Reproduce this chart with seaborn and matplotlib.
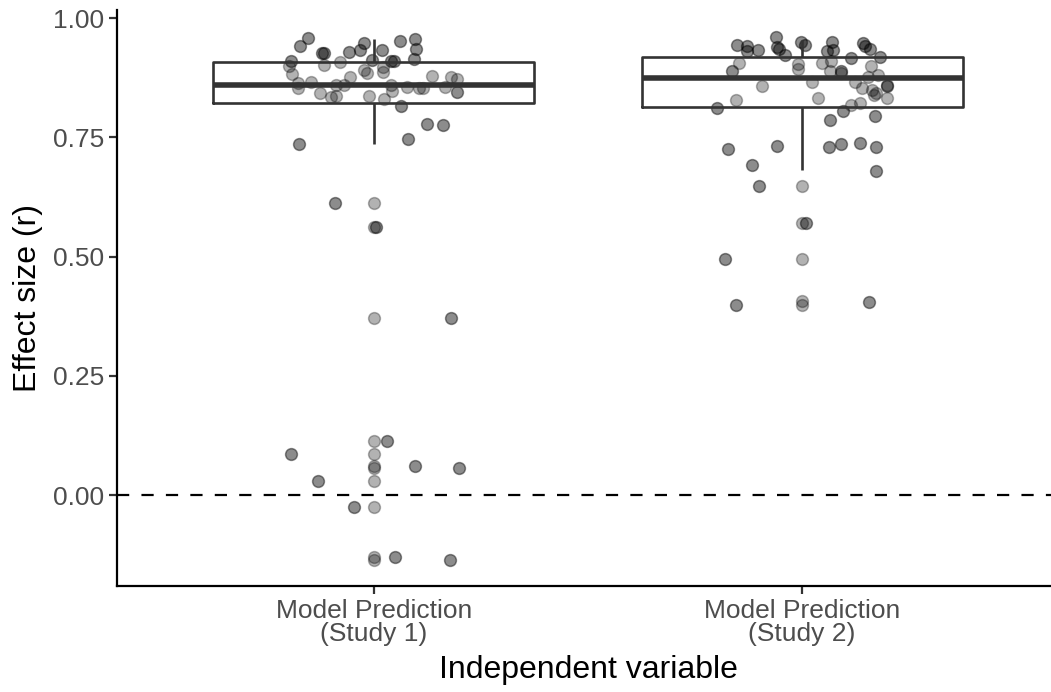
import numpy as np
import pandas as pd
import matplotlib
matplotlib.use("Agg")
import matplotlib.pyplot as plt
import seaborn as sns

# ---------------- data ----------------
categories = ["Model Prediction\n(Study 1)", "Model Prediction\n(Study 2)"]

# five-number box summaries: lower whisker, Q1, median, Q3, upper whisker
box_study1 = [0.737, 0.823, 0.860, 0.908, 0.957]
box_study2 = [0.681, 0.813, 0.875, 0.918, 0.954]

# Study 1, darker points (effect size r) and their horizontal jitter
s1_dark_r = [0.959, 0.941, 0.926, 0.926, 0.929, 0.934, 0.948, 0.913, 0.933, 0.952,
             0.956, 0.936, 0.914, 0.910, 0.910, 0.910, 0.816, 0.778, 0.776, 0.746,
             0.737, 0.613, 0.562, 0.372, 0.113, 0.087, 0.062, 0.057, 0.031, -0.025,
             -0.129, -0.135, 0.845]
s1_dark_dx = [-0.155, -0.173, -0.122, -0.116, -0.058, -0.033, -0.023, -0.005, 0.018, 0.061,
              0.096, 0.098, 0.093, 0.041, 0.047, -0.194, 0.063, 0.123, 0.162, 0.080,
              -0.174, -0.091, 0.005, 0.181, 0.031, -0.194, 0.095, 0.198, -0.130, -0.047,
              0.050, 0.178, 0.195]

# Study 1, lighter points
s1_light_r = [0.899, 0.883, 0.863, 0.854, 0.865, 0.843, 0.901, 0.835, 0.836, 0.860,
              0.860, 0.907, 0.876, 0.892, 0.884, 0.836, 0.887, 0.898, 0.831, 0.860,
              0.848, 0.856, 0.854, 0.853, 0.878, 0.856, 0.877, 0.872,
              0.613, 0.562, 0.372, 0.113, 0.087, 0.061, 0.057, 0.031, -0.025, -0.129, -0.135]
s1_light_dx = [-0.198, -0.191, -0.178, -0.177, -0.147, -0.126, -0.116, -0.101, -0.089, -0.089,
               -0.070, -0.079, -0.055, -0.022, -0.016, -0.011, 0.022, 0.022, 0.024, 0.039,
               0.042, 0.078, 0.106, 0.114, 0.135, 0.167, 0.181, 0.195,
               0.0, 0.0, 0.0, 0.0, 0.0, 0.0, 0.0, 0.0, 0.0, 0.0, 0.0]

# Study 2, darker points
s2_dark_r = [0.943, 0.942, 0.930, 0.933, 0.961, 0.940, 0.935, 0.922, 0.950, 0.943,
             0.949, 0.930, 0.933, 0.947, 0.942, 0.935, 0.919, 0.917, 0.889, 0.811,
             0.805, 0.786, 0.795, 0.725, 0.732, 0.729, 0.736, 0.739, 0.729, 0.692,
             0.680, 0.648, 0.571, 0.496, 0.398, 0.405, 0.888, 0.858]
s2_dark_dx = [-0.153, -0.128, -0.129, -0.104, -0.061, -0.058, -0.055, -0.040, -0.003, 0.006,
              0.071, 0.058, 0.073, 0.143, 0.147, 0.159, 0.182, 0.115, -0.163, -0.198,
              0.096, 0.065, 0.170, -0.174, -0.059, 0.063, 0.092, 0.135, 0.172, -0.116,
              0.172, -0.100, 0.010, -0.180, -0.155, 0.156, 0.091, 0.198]

# Study 2, lighter points
s2_light_r = [0.905, 0.858, 0.828, 0.903, 0.894, 0.905, 0.909, 0.888, 0.884, 0.900,
              0.877, 0.881, 0.867, 0.866, 0.853, 0.849, 0.842, 0.839, 0.832, 0.860,
              0.833, 0.823, 0.818,
              0.648, 0.571, 0.496, 0.407, 0.398]
s2_light_dx = [-0.147, -0.094, -0.155, -0.009, -0.009, 0.047, 0.067, 0.065, 0.090, 0.162,
               0.154, 0.177, 0.124, 0.022, 0.141, 0.163, 0.172, 0.168, 0.199, 0.199,
               0.037, 0.135, 0.115,
               0.0, 0.0, 0.0, 0.0, 0.0]

# ---------------- build tables ----------------
box_df = pd.DataFrame({
    "group": [categories[0]] * len(box_study1) + [categories[1]] * len(box_study2),
    "r": box_study1 + box_study2,
})

def points(rs, dxs, idx):
    return pd.DataFrame({"x": [idx + d for d in dxs], "r": rs})

dark_df = pd.concat([points(s1_dark_r, s1_dark_dx, 0), points(s2_dark_r, s2_dark_dx, 1)])
light_df = pd.concat([points(s1_light_r, s1_light_dx, 0), points(s2_light_r, s2_light_dx, 1)])

# ---------------- plot ----------------
sns.set_theme(style="ticks")
plt.rcParams["font.family"] = ["Liberation Sans", "DejaVu Sans"]

W, H = 1051, 692
fig = plt.figure(figsize=(W / 100, H / 100), dpi=100)
ax = fig.add_axes([117 / W, (H - 586) / H, 942 / W, (586 - 10.4) / H])

line_col = "#333333"
sns.scatterplot(data=light_df, x="x", y="r", ax=ax, s=72, color="black",
                alpha=0.3, edgecolor="black", linewidth=1.1, zorder=1, legend=False)
sns.scatterplot(data=dark_df, x="x", y="r", ax=ax, s=72, color="black",
                alpha=0.45, edgecolor="black", linewidth=1.1, zorder=1, legend=False)

sns.boxplot(data=box_df, x="group", y="r", order=categories, ax=ax, width=0.75,
            fill=False, color=line_col, linewidth=1.9, showcaps=False,
            showfliers=False, whis=1.5,
            medianprops={"linewidth": 4.0, "color": line_col})

ax.axhline(0, color="black", linewidth=1.6, linestyle=(0, (5.5, 5.5)), zorder=3)

ax.set_xlim(-0.6, 1.6)
ax.set_ylim(-0.19, 1.016)
ax.set_xticks([0, 1])
ax.set_xticklabels(categories, linespacing=0.95)
ax.set_yticks([0, 0.25, 0.5, 0.75, 1.0])
ax.set_yticklabels(["0.00", "0.25", "0.50", "0.75", "1.00"])

for side in ["top", "right"]:
    ax.spines[side].set_visible(False)
for side in ["left", "bottom"]:
    ax.spines[side].set_color("black")
    ax.spines[side].set_linewidth(1.6)

ax.tick_params(axis="both", colors=line_col, length=5.5, width=1.6,
               labelsize=19, labelcolor="#4D4D4D", pad=4)
ax.set_xlabel("Independent variable", fontsize=23, color="black", labelpad=6)
ax.set_ylabel("Effect size (r)", fontsize=23, color="black", labelpad=7)

fig.savefig("out.png", dpi=100)
